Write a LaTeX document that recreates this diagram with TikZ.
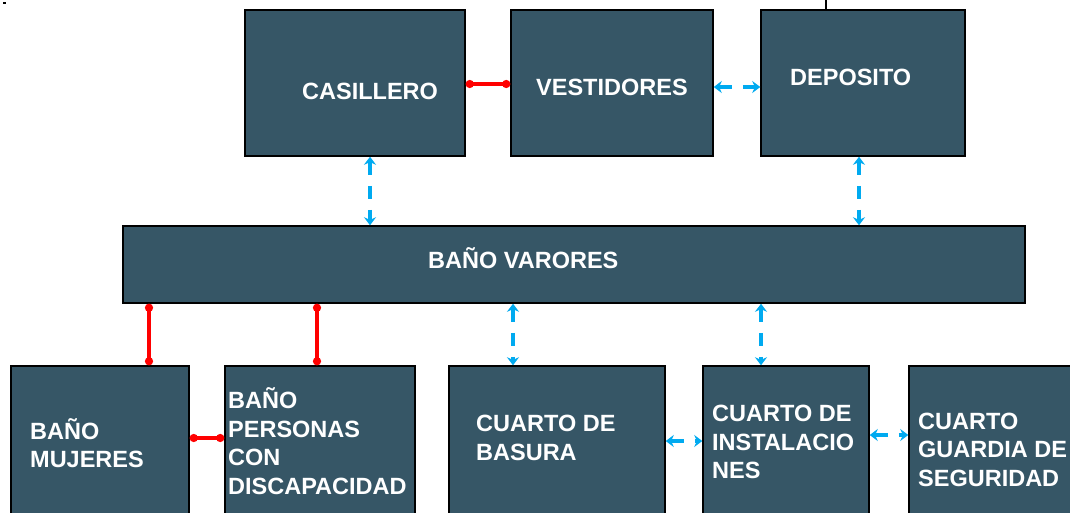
\documentclass[tikz,border=0pt]{standalone}
\usepackage{fontspec}
\setmainfont{Liberation Sans}
\usetikzlibrary{arrows.meta}
\definecolor{boxfill}{RGB}{54,86,102}
\definecolor{linkblue}{RGB}{0,170,240}
\definecolor{linkred}{RGB}{255,0,0}
\begin{document}
\begin{tikzpicture}[x=1pt,y=-1pt,
  room/.style={draw=black,line width=1.5pt,fill=boxfill,inner sep=0pt},
  lbl/.style={text=white,font=\fontsize{23.5pt}{28.5pt}\selectfont\bfseries,inner sep=0pt,anchor=west,align=left},
  redlink/.style={draw=linkred,line width=3.6pt,{Circle[length=8pt]}-{Circle[length=8pt]}},
  bluelink/.style={draw=linkblue,line width=3.6pt,dash pattern=on 13pt off 11pt,{Stealth[length=8pt,width=12pt]}-{Stealth[length=8pt,width=12pt]}}]
\useasboundingbox (0,0) rectangle (1070,512);
\fill[white] (0,0) rectangle (1070,512);
% rooms
\node[room,minimum width=220pt,minimum height=146pt] (cas) at (355,83) {};
\node[room,minimum width=202pt,minimum height=146pt] (ves) at (612,83) {};
\node[room,minimum width=204pt,minimum height=146pt] (dep) at (863,83) {};
\node[room,minimum width=902pt,minimum height=77pt] (bv) at (574,264.5) {};
\node[room,minimum width=178pt,minimum height=154pt] (muj) at (100,443) {};
\node[room,minimum width=190pt,minimum height=154pt] (per) at (320,443) {};
\node[room,minimum width=216pt,minimum height=154pt] (bas) at (557,443) {};
\node[room,minimum width=166pt,minimum height=154pt] (ins) at (786,443) {};
\node[room,minimum width=171pt,minimum height=154pt] (gua) at (994.5,443) {};
% labels
\node[lbl] (tcas) at (302,91) {CASILLERO};
\node[lbl] (tves) at (536,87) {VESTIDORES};
\node[lbl] (tdep) at (790,77) {DEPOSITO};
\node[lbl] (tbv) at (428,258) {BAÑO VARORES};
\node[lbl] (tmuj) at (30,443) {BAÑO\\MUJERES};
\node[lbl] (tper) at (228,441) {BAÑO\\PERSONAS\\CON\\DISCAPACIDAD};
\node[lbl] (tbas) at (476,438) {CUARTO DE\\BASURA};
\node[lbl] (tins) at (712,442) {CUARTO DE\\INSTALACIO\\NES};
\node[lbl] (tgua) at (918,449.5) {CUARTO\\GUARDIA DE\\SEGURIDAD};
% stray marks
\draw[line width=1.5pt] (826,0) -- (dep.north -| 826,0);
\fill (3,2) rectangle (6,4);
% connectors
\draw[redlink] (cas.east |- 0,84) -- (ves.west |- 0,84);
\draw[bluelink] (ves.east |- 0,87) -- (dep.west |- 0,87);
\draw[bluelink] (cas.south -| 370,0) -- (bv.north -| 370,0);
\draw[bluelink] (dep.south -| 859,0) -- (bv.north -| 859,0);
\draw[redlink] (bv.south -| 149,0) -- (muj.north -| 149,0);
\draw[redlink] (bv.south -| 317,0) -- (per.north -| 317,0);
\draw[bluelink] (bv.south -| 513,0) -- (bas.north -| 513,0);
\draw[bluelink] (bv.south -| 761,0) -- (ins.north -| 761,0);
\draw[redlink] (muj.east |- 0,438) -- (per.west |- 0,438);
\draw[bluelink] (bas.east |- 0,441) -- (ins.west |- 0,441);
\draw[bluelink] (ins.east |- 0,435) -- (gua.west |- 0,435);
\end{tikzpicture}
\end{document}
